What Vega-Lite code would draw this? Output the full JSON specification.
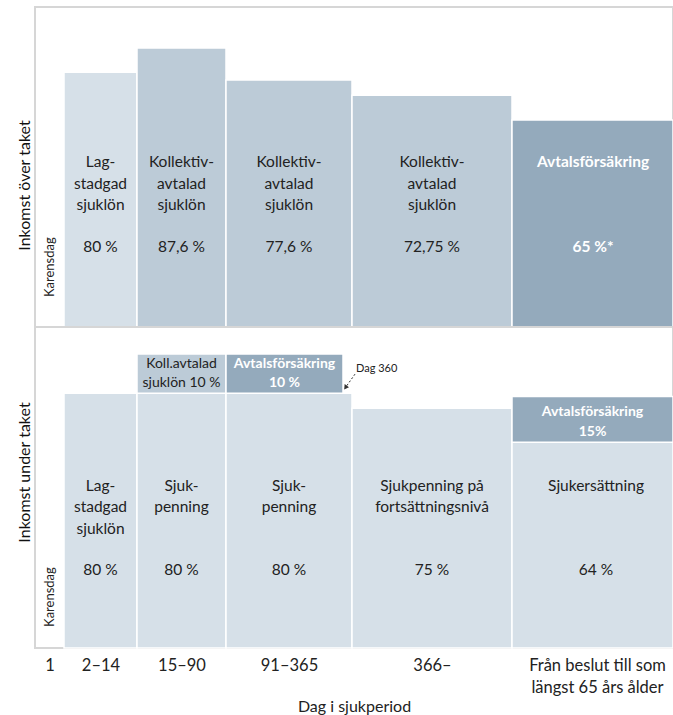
{
  "$schema": "https://vega.github.io/schema/vega-lite/v6.json",
  "padding": {"left": 15, "top": 6, "right": 0, "bottom": 0},
  "spacing": 0,
  "bounds": "flush",
  "config": {
    "font": "Lato",
    "view": {"stroke": "#d6d6d6", "strokeWidth": 2},
    "axis": {"grid": false, "domain": false, "ticks": false, "labelFont": "Lato", "titleFont": "Lato"},
    "text": {"font": "Lato"}
  },
  "datasets": {
    "over_staplar": [
      {"x0": 29, "x1": 102, "y0": 0, "y1": 80, "niva": "ljus"},
      {"x0": 102, "x1": 191, "y0": 0, "y1": 87.6, "niva": "mellan"},
      {"x0": 191, "x1": 317, "y0": 0, "y1": 77.6, "niva": "mellan"},
      {"x0": 317, "x1": 477, "y0": 0, "y1": 72.75, "niva": "mellan"},
      {"x0": 477, "x1": 638, "y0": 0, "y1": 65, "niva": "mörk"}
    ],
    "over_text": [
      {"xc": 65.5, "namn": "Lag-\nstadgad\nsjuklön", "pct": "80 %", "niva": "ljus"},
      {"xc": 146.5, "namn": "Kollektiv-\navtalad\nsjuklön", "pct": "87,6 %", "niva": "mellan"},
      {"xc": 254, "namn": "Kollektiv-\navtalad\nsjuklön", "pct": "77,6 %", "niva": "mellan"},
      {"xc": 397, "namn": "Kollektiv-\navtalad\nsjuklön", "pct": "72,75 %", "niva": "mellan"},
      {"xc": 558, "namn": "Avtalsförsäkring", "pct": "65 %*", "niva": "mörk"}
    ],
    "under_staplar": [
      {"x0": 29, "x1": 102, "y0": 0, "y1": 80, "niva": "ljus"},
      {"x0": 102, "x1": 191, "y0": 0, "y1": 80, "niva": "ljus"},
      {"x0": 191, "x1": 317, "y0": 0, "y1": 80, "niva": "ljus"},
      {"x0": 317, "x1": 477, "y0": 0, "y1": 75.3, "niva": "ljus"},
      {"x0": 477, "x1": 638, "y0": 0, "y1": 64.6, "niva": "ljus"},
      {"x0": 102, "x1": 191, "y0": 80, "y1": 92.3, "niva": "mellan"},
      {"x0": 191, "x1": 308, "y0": 80, "y1": 92.3, "niva": "mörk"},
      {"x0": 477, "x1": 638, "y0": 64.6, "y1": 79, "niva": "mörk"}
    ],
    "under_text": [
      {"xc": 65.5, "namn": "Lag-\nstadgad\nsjuklön", "pct": "80 %"},
      {"xc": 146.5, "namn": "Sjuk-\npenning", "pct": "80 %"},
      {"xc": 254, "namn": "Sjuk-\npenning", "pct": "80 %"},
      {"xc": 397, "namn": "Sjukpenning på\nfortsättningsnivå", "pct": "75 %"},
      {"xc": 561, "namn": "Sjukersättning", "pct": "64 %"}
    ],
    "tillagg": [
      {"xc": 146.5, "yc": 89.3, "etikett": "Koll.avtalad\nsjuklön 10 %", "niva": "mellan"},
      {"xc": 249.5, "yc": 89.3, "etikett": "Avtalsförsäkring\n10 %", "niva": "mörk"},
      {"xc": 557.5, "yc": 74.0, "etikett": "Avtalsförsäkring\n15%", "niva": "mörk"}
    ],
    "pil": [
      {"xa": 320, "ya": 86, "xb": 310.5, "yb": 81.8}
    ]
  },
  "vconcat": [
    {
      "width": 638,
      "height": 320,
      "layer": [
        {
          "data": {"name": "over_staplar"},
          "mark": {"type": "rect", "stroke": "white", "strokeWidth": 1.5},
          "encoding": {
            "x": {"field": "x0", "type": "quantitative", "scale": {"domain": [0, 638], "nice": false}, "axis": null},
            "x2": {"field": "x1"},
            "y": {"field": "y1", "type": "quantitative", "scale": {"domain": [0, 100.5], "nice": false},
              "axis": {"title": "Inkomst över taket", "labels": false, "titleX": -11, "titleY": 178, "titleAngle": 270,
                "titleBaseline": "middle", "titleAlign": "center", "titleFontSize": 16, "titleFontWeight": "normal", "titleColor": "#111"}},
            "y2": {"field": "y0"},
            "color": {"field": "niva", "type": "nominal", "scale": {"domain": ["ljus", "mellan", "mörk"], "range": ["#d6e0e8", "#bccbd7", "#94aabc"]}, "legend": null}
          }
        },
        {
          "data": {"name": "over_text"},
          "transform": [{"filter": "datum.niva !== 'mörk'"}],
          "mark": {"type": "text", "baseline": "top", "align": "center", "lineBreak": "\n", "fontSize": 15.5, "lineHeight": 21.5, "color": "#222"},
          "encoding": {"x": {"field": "xc", "type": "quantitative"}, "y": {"datum": 54}, "text": {"field": "namn"}}
        },
        {
          "data": {"name": "over_text"},
          "transform": [{"filter": "datum.niva !== 'mörk'"}],
          "mark": {"type": "text", "baseline": "middle", "align": "center", "fontSize": 15.5, "color": "#222"},
          "encoding": {"x": {"field": "xc", "type": "quantitative"}, "y": {"datum": 25.1}, "text": {"field": "pct"}}
        },
        {
          "data": {"name": "over_text"},
          "transform": [{"filter": "datum.niva === 'mörk'"}],
          "mark": {"type": "text", "baseline": "top", "align": "center", "fontSize": 15.5, "fontWeight": "bold", "color": "white"},
          "encoding": {"x": {"field": "xc", "type": "quantitative"}, "y": {"datum": 54}, "text": {"field": "namn"}}
        },
        {
          "data": {"name": "over_text"},
          "transform": [{"filter": "datum.niva === 'mörk'"}],
          "mark": {"type": "text", "baseline": "middle", "align": "center", "fontSize": 15.5, "fontWeight": "bold", "color": "white"},
          "encoding": {"x": {"field": "xc", "type": "quantitative"}, "y": {"datum": 25.1}, "text": {"field": "pct"}}
        },
        {
          "data": {"values": [{"etikett": "Karensdag"}]},
          "mark": {"type": "text", "angle": 270, "baseline": "middle", "align": "center", "fontSize": 13, "color": "#222"},
          "encoding": {"x": {"datum": 14.5}, "y": {"datum": 18.8}, "text": {"field": "etikett"}}
        }
      ]
    },
    {
      "width": 638,
      "height": 321,
      "layer": [
        {
          "data": {"name": "under_staplar"},
          "mark": {"type": "rect", "stroke": "white", "strokeWidth": 1.5},
          "encoding": {
            "x": {"field": "x0", "type": "quantitative", "scale": {"domain": [0, 638], "nice": false},
              "axis": {"values": [14.5, 65.5, 146.5, 254, 397, 562],
                "labelExpr": "datum.value === 14.5 ? '1' : datum.value === 65.5 ? '2–14' : datum.value === 146.5 ? '15–90' : datum.value === 254 ? '91–365' : datum.value === 397 ? '366–' : ['Från beslut till som', 'längst 65 års ålder']",
                "labelFontSize": 16.5, "labelColor": "#222", "labelPadding": 9, "labelLineHeight": 22, "labelOverlap": false, "labelFlush": false,
                "title": "Dag i sjukperiod", "titleFontSize": 16, "titleFontWeight": "normal", "titleColor": "#222", "titlePadding": 3}},
            "x2": {"field": "x1"},
            "y": {"field": "y1", "type": "quantitative", "scale": {"domain": [0, 100.8], "nice": false},
              "axis": {"title": "Inkomst under taket", "labels": false, "titleX": -11, "titleY": 145, "titleAngle": 270,
                "titleBaseline": "middle", "titleAlign": "center", "titleFontSize": 16, "titleFontWeight": "normal", "titleColor": "#111"}},
            "y2": {"field": "y0"},
            "color": {"field": "niva", "type": "nominal", "scale": {"domain": ["ljus", "mellan", "mörk"], "range": ["#d6e0e8", "#bccbd7", "#94aabc"]}, "legend": null}
          }
        },
        {
          "data": {"name": "under_text"},
          "mark": {"type": "text", "baseline": "top", "align": "center", "lineBreak": "\n", "fontSize": 15.5, "lineHeight": 21.5, "color": "#222"},
          "encoding": {"x": {"field": "xc", "type": "quantitative"}, "y": {"datum": 53.1}, "text": {"field": "namn"}}
        },
        {
          "data": {"name": "under_text"},
          "mark": {"type": "text", "baseline": "middle", "align": "center", "fontSize": 15.5, "color": "#222"},
          "encoding": {"x": {"field": "xc", "type": "quantitative"}, "y": {"datum": 24.5}, "text": {"field": "pct"}}
        },
        {
          "data": {"name": "tillagg"},
          "transform": [{"filter": "datum.niva === 'mellan'"}],
          "mark": {"type": "text", "baseline": "middle", "align": "center", "lineBreak": "\n", "fontSize": 14, "lineHeight": 19.5, "color": "#222"},
          "encoding": {"x": {"field": "xc", "type": "quantitative"}, "y": {"field": "yc", "type": "quantitative"}, "text": {"field": "etikett"}}
        },
        {
          "data": {"name": "tillagg"},
          "transform": [{"filter": "datum.niva === 'mörk'"}],
          "mark": {"type": "text", "baseline": "middle", "align": "center", "lineBreak": "\n", "fontSize": 14, "lineHeight": 19.5, "fontWeight": "bold", "color": "white"},
          "encoding": {"x": {"field": "xc", "type": "quantitative"}, "y": {"field": "yc", "type": "quantitative"}, "text": {"field": "etikett"}}
        },
        {
          "data": {"values": [{"etikett": "Dag 360"}]},
          "mark": {"type": "text", "baseline": "middle", "align": "left", "fontSize": 11, "color": "#222"},
          "encoding": {"x": {"datum": 321}, "y": {"datum": 87.5}, "text": {"field": "etikett"}}
        },
        {
          "data": {"name": "pil"},
          "mark": {"type": "rule", "strokeDash": [2, 2], "strokeWidth": 1, "color": "#333"},
          "encoding": {"x": {"field": "xa", "type": "quantitative"}, "y": {"field": "ya", "type": "quantitative"}, "x2": {"field": "xb"}, "y2": {"field": "yb"}}
        },
        {
          "data": {"name": "pil"},
          "mark": {"type": "point", "shape": "triangle-down", "filled": true, "size": 28, "angle": 35, "color": "#333", "opacity": 1},
          "encoding": {"x": {"field": "xb", "type": "quantitative"}, "y": {"field": "yb", "type": "quantitative"}}
        },
        {
          "data": {"values": [{"etikett": "Karensdag"}]},
          "mark": {"type": "text", "angle": 270, "baseline": "middle", "align": "center", "fontSize": 13, "color": "#222"},
          "encoding": {"x": {"datum": 14.5}, "y": {"datum": 16}, "text": {"field": "etikett"}}
        }
      ]
    }
  ]
}
